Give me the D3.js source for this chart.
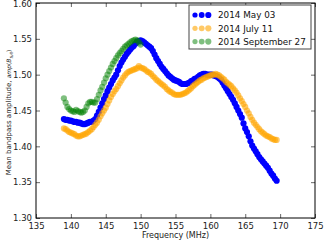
<!DOCTYPE html>
<html>
<head>
<meta charset="utf-8">
<script src="https://cdn.jsdelivr.net/npm/d3@7"></script>
<style>
  body { margin: 0; background: #fff; }
  text { font-family: "DejaVu Sans", sans-serif; }
</style>
</head>
<body>
<div id="chart"></div>
<script>
// frequenze (MHz) e ampiezze medie per ogni data
var freqMay = [139.00,139.25,139.50,139.75,140.00,140.25,140.50,140.75,141.00,141.25,141.50,141.75,142.00,142.25,142.50,142.75,143.00,143.25,143.50,143.75,144.00,144.25,144.50,144.75,145.00,145.25,145.50,145.75,146.00,146.25,146.50,146.75,147.00,147.25,147.50,147.75,148.00,148.25,148.50,148.75,149.00,149.25,149.50,149.75,150.00,150.25,150.50,150.75,151.00,151.25,151.50,151.75,152.00,152.25,152.50,152.75,153.00,153.25,153.50,153.75,154.00,154.25,154.50,154.75,155.00,155.25,155.50,155.75,156.00,156.25,156.50,156.75,157.00,157.25,157.50,157.75,158.00,158.25,158.50,158.75,159.00,159.25,159.50,159.75,160.00,160.25,160.50,160.75,161.00,161.25,161.50,161.75,162.00,162.25,162.50,162.75,163.00,163.25,163.50,163.75,164.00,164.25,164.50,164.75,165.00,165.25,165.50,165.75,166.00,166.25,166.50,166.75,167.00,167.25,167.50,167.75,168.00,168.25,168.50,168.75,169.00,169.25,169.50];
var ampMay = [1.438,1.437,1.437,1.436,1.436,1.435,1.434,1.434,1.433,1.433,1.432,1.431,1.431,1.432,1.433,1.434,1.434,1.436,1.438,1.443,1.448,1.454,1.460,1.466,1.471,1.477,1.482,1.487,1.492,1.496,1.500,1.506,1.512,1.517,1.521,1.525,1.529,1.532,1.535,1.538,1.540,1.543,1.546,1.547,1.548,1.547,1.545,1.543,1.541,1.539,1.537,1.533,1.528,1.523,1.519,1.515,1.511,1.508,1.505,1.502,1.499,1.497,1.495,1.493,1.492,1.491,1.490,1.488,1.487,1.487,1.487,1.488,1.489,1.491,1.492,1.494,1.495,1.497,1.499,1.500,1.501,1.501,1.500,1.500,1.500,1.500,1.499,1.498,1.497,1.495,1.493,1.489,1.485,1.481,1.477,1.473,1.469,1.465,1.460,1.455,1.450,1.445,1.440,1.432,1.425,1.420,1.414,1.407,1.401,1.397,1.393,1.389,1.385,1.382,1.379,1.376,1.373,1.370,1.366,1.362,1.359,1.355,1.352];

var freqJul = [139.00,139.25,139.50,139.75,140.00,140.25,140.50,140.75,141.00,141.25,141.50,141.75,142.00,142.25,142.50,142.75,143.00,143.25,143.50,143.75,144.00,144.25,144.50,144.75,145.00,145.25,145.50,145.75,146.00,146.25,146.50,146.75,147.00,147.25,147.50,147.75,148.00,148.25,148.50,148.75,149.00,149.25,149.50,149.75,150.00,150.25,150.50,150.75,151.00,151.25,151.50,151.75,152.00,152.25,152.50,152.75,153.00,153.25,153.50,153.75,154.00,154.25,154.50,154.75,155.00,155.25,155.50,155.75,156.00,156.25,156.50,156.75,157.00,157.25,157.50,157.75,158.00,158.25,158.50,158.75,159.00,159.25,159.50,159.75,160.00,160.25,160.50,160.75,161.00,161.25,161.50,161.75,162.00,162.25,162.50,162.75,163.00,163.25,163.50,163.75,164.00,164.25,164.50,164.75,165.00,165.25,165.50,165.75,166.00,166.25,166.50,166.75,167.00,167.25,167.50,167.75,168.00,168.25,168.50,168.75,169.00,169.25,169.50];
var ampJul = [1.425,1.424,1.422,1.420,1.419,1.418,1.417,1.415,1.414,1.414,1.415,1.416,1.417,1.418,1.420,1.422,1.424,1.427,1.430,1.433,1.437,1.442,1.446,1.450,1.454,1.459,1.464,1.469,1.473,1.477,1.480,1.484,1.488,1.492,1.496,1.499,1.502,1.504,1.505,1.506,1.507,1.508,1.509,1.512,1.510,1.509,1.508,1.506,1.504,1.503,1.501,1.498,1.496,1.493,1.491,1.489,1.487,1.485,1.483,1.480,1.478,1.476,1.475,1.473,1.472,1.472,1.472,1.472,1.473,1.474,1.475,1.477,1.479,1.481,1.484,1.486,1.488,1.490,1.492,1.493,1.495,1.496,1.497,1.498,1.499,1.500,1.500,1.501,1.500,1.499,1.497,1.495,1.493,1.490,1.488,1.486,1.484,1.481,1.478,1.475,1.471,1.467,1.463,1.459,1.455,1.450,1.446,1.441,1.437,1.433,1.430,1.427,1.424,1.421,1.419,1.417,1.415,1.414,1.413,1.411,1.410,1.409,1.409];

var freqSep = [139.00,139.25,139.50,139.75,140.00,140.25,140.50,140.75,141.00,141.25,141.50,141.75,142.00,142.25,142.50,142.75,143.00,143.25,143.50,143.75,144.00,144.25,144.50,144.75,145.00,145.25,145.50,145.75,146.00,146.25,146.50,146.75,147.00,147.25,147.50,147.75,148.00,148.25,148.50,148.75,149.00,149.25,149.50,149.75,150.00];
var ampSep = [1.467,1.461,1.455,1.452,1.450,1.449,1.448,1.451,1.449,1.448,1.447,1.448,1.450,1.455,1.460,1.462,1.462,1.461,1.461,1.466,1.472,1.478,1.483,1.489,1.495,1.500,1.505,1.510,1.515,1.519,1.523,1.527,1.530,1.533,1.536,1.539,1.541,1.543,1.545,1.547,1.548,1.549,1.548,1.545,1.542];

var xTicks = [135,140,145,150,155,160,165,170,175];
var yTicks = [1.30,1.35,1.40,1.45,1.50,1.55,1.60];

var series = [
  {label: "2014 May 03", freq: freqMay, amp: ampMay, color: "#0000ff", alpha: 1},
  {label: "2014 July 11", freq: freqJul, amp: ampJul, color: "#ffa500", alpha: 0.6},
  {label: "2014 September 27", freq: freqSep, amp: ampSep, color: "#008000", alpha: 0.5}
];

var width = 334, height = 246;
var margin = {left: 36, right: 19, top: 3, bottom: 28};

var svg = d3.select("#chart").append("svg")
  .attr("width", width)
  .attr("height", height);

var x = d3.scaleLinear().domain([135, 175]).range([margin.left, width - margin.right]);
var y = d3.scaleLinear().domain([1.30, 1.60]).range([height - margin.bottom, margin.top]);

// assi con tick verso l'interno
var xAxis = svg.append("g")
  .attr("transform", "translate(0," + (height - margin.bottom) + ")")
  .call(d3.axisBottom(x).tickValues(xTicks).tickSize(-4).tickPadding(5).tickFormat(d3.format("d")));
var xAxisTop = svg.append("g")
  .attr("transform", "translate(0," + margin.top + ")")
  .call(d3.axisTop(x).tickValues(xTicks).tickSize(-4).tickFormat(""));
var yAxis = svg.append("g")
  .attr("transform", "translate(" + margin.left + ",0)")
  .call(d3.axisLeft(y).tickValues(yTicks).tickSize(-4).tickPadding(4).tickFormat(d3.format(".2f")));
var yAxisRight = svg.append("g")
  .attr("transform", "translate(" + (width - margin.right) + ",0)")
  .call(d3.axisRight(y).tickValues(yTicks).tickSize(-4).tickFormat(""));

[xAxis, xAxisTop, yAxis, yAxisRight].forEach(function (g) {
  g.select(".domain").remove();
  g.selectAll(".tick line").attr("stroke", "#000").attr("stroke-width", 0.6);
  g.selectAll("text").attr("font-family", "DejaVu Sans").attr("font-size", 8.5).attr("fill", "#222");
});
// l'etichetta 1.60 resta dentro la finestra
yAxis.selectAll(".tick text").filter(function (d) { return d === 1.60; }).attr("dy", "0.45em");

// punti
series.forEach(function (s) {
  svg.append("g")
    .selectAll("circle")
    .data(s.freq.map(function (f, i) { return [f, s.amp[i]]; }))
    .enter()
    .append("circle")
    .attr("cx", function (d) { return x(d[0]); })
    .attr("cy", function (d) { return y(d[1]); })
    .attr("r", 3.1)
    .attr("fill", s.color)
    .attr("fill-opacity", s.alpha);
});

// cornice
svg.append("rect")
  .attr("x", margin.left)
  .attr("y", margin.top)
  .attr("width", width - margin.left - margin.right)
  .attr("height", height - margin.top - margin.bottom)
  .attr("fill", "none")
  .attr("stroke", "#000")
  .attr("stroke-width", 1);

// etichette assi
svg.append("text")
  .attr("x", (margin.left + width - margin.right) / 2)
  .attr("y", height - 8)
  .attr("text-anchor", "middle")
  .attr("font-size", 8)
  .attr("fill", "#222")
  .text("Frequency (MHz)");

var yl = svg.append("text")
  .attr("transform", "translate(11," + ((margin.top + height - margin.bottom) / 2 + 2) + ") rotate(-90)")
  .attr("text-anchor", "middle")
  .attr("font-size", 7)
  .attr("fill", "#222");
yl.append("tspan").text("Mean bandpass amplitude, ");
yl.append("tspan").attr("font-style", "italic").attr("font-size", 6).text("amp");
yl.append("tspan").attr("font-size", 6).text("(");
yl.append("tspan").attr("font-style", "italic").attr("font-size", 6).text("B");
yl.append("tspan").attr("font-style", "italic").attr("font-size", 4.2).attr("dy", 1.5).text("full");
yl.append("tspan").attr("font-size", 6).attr("dy", -1.5).text(")");

// legenda
var legend = svg.append("g").attr("transform", "translate(189,5)");
legend.append("rect")
  .attr("width", 122)
  .attr("height", 44)
  .attr("fill", "#fff")
  .attr("stroke", "#444")
  .attr("stroke-width", 1);
var markerOffsets = [{dx: 6, r: 2.6}, {dx: 12.7, r: 2.9}, {dx: 19.3, r: 3.1}];
series.forEach(function (s, i) {
  var row = legend.append("g").attr("transform", "translate(0," + (10 + i * 13.3) + ")");
  markerOffsets.forEach(function (m) {
    row.append("circle")
      .attr("cx", m.dx)
      .attr("cy", 0)
      .attr("r", m.r)
      .attr("fill", s.color)
      .attr("fill-opacity", s.alpha);
  });
  row.append("text")
    .attr("x", 29)
    .attr("y", 3.4)
    .attr("font-size", 8.8)
    .attr("fill", "#111")
    .text(s.label);
});
</script>
</body>
</html>
